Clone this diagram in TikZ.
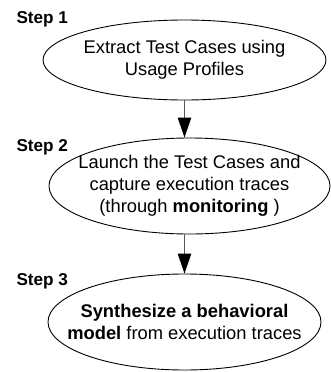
\documentclass[tikz,border=0pt]{standalone}
\usepackage{fontspec}
\setmainfont{Liberation Sans}
\usetikzlibrary{positioning}
\usetikzlibrary{arrows.meta}
\usetikzlibrary{shapes.geometric}
\tikzset{
    x=1bp, y=1bp,
    stage/.style={
        ellipse,
        draw,
        line width=0.9bp,
        inner xsep=-40bp,
        inner ysep=-20bp,
        align=center,
        font=\fontsize{18.4}{22}\selectfont
    },
    steplabel/.style={
        anchor=base west,
        font=\fontsize{17.2}{20}\selectfont\bfseries
    },
    flow/.style={
        draw=black!65,
        line width=1.2bp,
        -{Triangle[length=20bp,width=13.5bp,color=black]}
    }
}

\begin{document}
\begin{tikzpicture}
    \useasboundingbox (0,0) rectangle (331,-372);

    \node[stage, minimum width=283bp, minimum height=80bp] (e1) at (184.5,-60) {Extract Test Cases using\\Usage Profiles};
    \node[stage, minimum width=281bp, minimum height=96bp] (e2) at (189.5,-186) {Launch the Test Cases and\\capture execution traces\\(through \textbf{monitoring} )};
    \node[stage, minimum width=273bp, minimum height=96bp] (e3) at (184.5,-322) {\textbf{Synthesize a behavioral}\\\textbf{model} from execution traces};

    \node[steplabel] (s1) at (13,-23) {Step 1};
    \node[steplabel] (s2) at (13,-151) {Step 2};
    \node[steplabel] (s3) at (13,-285) {Step 3};

    \draw[flow] (e1.south) -- (e1.south |- e2.north);
    \draw[flow] (e1.south |- e2.south) -- (e3.north);
\end{tikzpicture}
\end{document}
